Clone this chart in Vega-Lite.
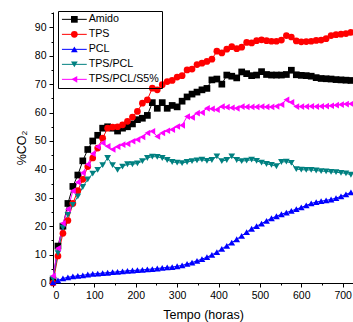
{
"$schema": "https://vega.github.io/schema/vega-lite/v6.json",
"width": 300, "height": 271,
"autosize": "none",
"padding": {"left": 53, "top": 12, "right": 0, "bottom": 39},
"background": "white",
"config": {
  "font": "Liberation Sans",
  "view": {"stroke": null},
  "axis": {"grid": false, "domainColor": "black", "tickColor": "black", "labelColor": "black", "titleColor": "black",
           "labelFont": "Liberation Sans", "titleFont": "Liberation Sans", "labelFontSize": 10.5, "titleFontSize": 12.5,
           "titleFontWeight": "normal", "tickSize": 4, "domainWidth": 1, "tickWidth": 1},
  "legend": {"title": null, "orient": "none", "legendX": 5, "legendY": -1,
             "padding": 3, "labelFontSize": 10.7, "labelFont": "Liberation Sans", "labelColor": "black", "symbolSize": 45,
             "symbolOffset": 8, "labelOffset": 9, "rowPadding": 3}
},
"datasets": {"d": [
{"t":0,"s":"Amido","v":1},{"t":12,"s":"Amido","v":13},{"t":24,"s":"Amido","v":20},{"t":36,"s":"Amido","v":28},{"t":48,"s":"Amido","v":34},{"t":60,"s":"Amido","v":38},{"t":72,"s":"Amido","v":43},{"t":84,"s":"Amido","v":47},{"t":96,"s":"Amido","v":50},{"t":108,"s":"Amido","v":52},{"t":120,"s":"Amido","v":54.5},{"t":132,"s":"Amido","v":55},{"t":144,"s":"Amido","v":54.5},{"t":156,"s":"Amido","v":53.5},{"t":168,"s":"Amido","v":54.5},{"t":180,"s":"Amido","v":55},{"t":192,"s":"Amido","v":56},{"t":204,"s":"Amido","v":57.5},{"t":216,"s":"Amido","v":58},{"t":228,"s":"Amido","v":59},{"t":240,"s":"Amido","v":63.5},{"t":252,"s":"Amido","v":61.5},{"t":264,"s":"Amido","v":63.5},{"t":276,"s":"Amido","v":61.5},{"t":288,"s":"Amido","v":62.5},{"t":300,"s":"Amido","v":62},{"t":312,"s":"Amido","v":64},{"t":324,"s":"Amido","v":65.5},{"t":336,"s":"Amido","v":66.5},{"t":348,"s":"Amido","v":67.2},{"t":360,"s":"Amido","v":68},{"t":372,"s":"Amido","v":68.5},{"t":384,"s":"Amido","v":71.5},{"t":396,"s":"Amido","v":71.8},{"t":408,"s":"Amido","v":70},{"t":420,"s":"Amido","v":73.2},{"t":432,"s":"Amido","v":72.8},{"t":444,"s":"Amido","v":72.2},{"t":456,"s":"Amido","v":74.3},{"t":468,"s":"Amido","v":73.7},{"t":480,"s":"Amido","v":73},{"t":492,"s":"Amido","v":73.2},{"t":504,"s":"Amido","v":74.4},{"t":516,"s":"Amido","v":73.4},{"t":528,"s":"Amido","v":73.2},{"t":540,"s":"Amido","v":73.2},{"t":552,"s":"Amido","v":73.2},{"t":564,"s":"Amido","v":73.4},{"t":576,"s":"Amido","v":74.9},{"t":588,"s":"Amido","v":73.3},{"t":600,"s":"Amido","v":73.1},{"t":612,"s":"Amido","v":73},{"t":624,"s":"Amido","v":72.8},{"t":636,"s":"Amido","v":72.3},{"t":648,"s":"Amido","v":72},{"t":660,"s":"Amido","v":71.9},{"t":672,"s":"Amido","v":71.8},{"t":684,"s":"Amido","v":71.6},{"t":696,"s":"Amido","v":71.5},{"t":708,"s":"Amido","v":71.4},{"t":720,"s":"Amido","v":71.3},
{"t":0,"s":"TPS","v":0},{"t":12,"s":"TPS","v":9.5},{"t":24,"s":"TPS","v":17.5},{"t":36,"s":"TPS","v":22},{"t":48,"s":"TPS","v":28},{"t":60,"s":"TPS","v":32.5},{"t":72,"s":"TPS","v":36.5},{"t":84,"s":"TPS","v":41},{"t":96,"s":"TPS","v":44},{"t":108,"s":"TPS","v":47.5},{"t":120,"s":"TPS","v":51},{"t":132,"s":"TPS","v":54.5},{"t":144,"s":"TPS","v":54.9},{"t":156,"s":"TPS","v":55},{"t":168,"s":"TPS","v":55.7},{"t":180,"s":"TPS","v":56.9},{"t":192,"s":"TPS","v":58.4},{"t":204,"s":"TPS","v":60.4},{"t":216,"s":"TPS","v":63.3},{"t":228,"s":"TPS","v":64.5},{"t":240,"s":"TPS","v":68.6},{"t":252,"s":"TPS","v":68},{"t":264,"s":"TPS","v":69.8},{"t":276,"s":"TPS","v":70.9},{"t":288,"s":"TPS","v":71.3},{"t":300,"s":"TPS","v":72.5},{"t":312,"s":"TPS","v":73},{"t":324,"s":"TPS","v":75},{"t":336,"s":"TPS","v":75.3},{"t":348,"s":"TPS","v":76.9},{"t":360,"s":"TPS","v":77.4},{"t":372,"s":"TPS","v":78},{"t":384,"s":"TPS","v":78.8},{"t":396,"s":"TPS","v":81.6},{"t":408,"s":"TPS","v":81},{"t":420,"s":"TPS","v":82.3},{"t":432,"s":"TPS","v":83.2},{"t":444,"s":"TPS","v":82.5},{"t":456,"s":"TPS","v":83},{"t":468,"s":"TPS","v":84.7},{"t":480,"s":"TPS","v":84.5},{"t":492,"s":"TPS","v":85.3},{"t":504,"s":"TPS","v":85.6},{"t":516,"s":"TPS","v":85.3},{"t":528,"s":"TPS","v":85.1},{"t":540,"s":"TPS","v":85.1},{"t":552,"s":"TPS","v":85.5},{"t":564,"s":"TPS","v":87.1},{"t":576,"s":"TPS","v":86.6},{"t":588,"s":"TPS","v":85.2},{"t":600,"s":"TPS","v":84.9},{"t":612,"s":"TPS","v":85},{"t":624,"s":"TPS","v":85.1},{"t":636,"s":"TPS","v":85.4},{"t":648,"s":"TPS","v":85.5},{"t":660,"s":"TPS","v":86},{"t":672,"s":"TPS","v":87.1},{"t":684,"s":"TPS","v":87.4},{"t":696,"s":"TPS","v":87.6},{"t":708,"s":"TPS","v":87.8},{"t":720,"s":"TPS","v":88.2},
{"t":0,"s":"PCL","v":0.2},{"t":12,"s":"PCL","v":0.9},{"t":24,"s":"PCL","v":1.6},{"t":36,"s":"PCL","v":2},{"t":48,"s":"PCL","v":2.3},{"t":60,"s":"PCL","v":2.5},{"t":72,"s":"PCL","v":2.7},{"t":84,"s":"PCL","v":3},{"t":96,"s":"PCL","v":3.2},{"t":108,"s":"PCL","v":3.3},{"t":120,"s":"PCL","v":3.5},{"t":132,"s":"PCL","v":3.6},{"t":144,"s":"PCL","v":3.8},{"t":156,"s":"PCL","v":3.9},{"t":168,"s":"PCL","v":4.1},{"t":180,"s":"PCL","v":4.3},{"t":192,"s":"PCL","v":4.4},{"t":204,"s":"PCL","v":4.5},{"t":216,"s":"PCL","v":4.6},{"t":228,"s":"PCL","v":4.8},{"t":240,"s":"PCL","v":4.9},{"t":252,"s":"PCL","v":5.1},{"t":264,"s":"PCL","v":5.3},{"t":276,"s":"PCL","v":5.5},{"t":288,"s":"PCL","v":5.6},{"t":300,"s":"PCL","v":5.9},{"t":312,"s":"PCL","v":6.2},{"t":324,"s":"PCL","v":6.7},{"t":336,"s":"PCL","v":7.2},{"t":348,"s":"PCL","v":7.8},{"t":360,"s":"PCL","v":8.4},{"t":372,"s":"PCL","v":9.1},{"t":384,"s":"PCL","v":9.9},{"t":396,"s":"PCL","v":10.9},{"t":408,"s":"PCL","v":12},{"t":420,"s":"PCL","v":13.1},{"t":432,"s":"PCL","v":14.2},{"t":444,"s":"PCL","v":15.4},{"t":456,"s":"PCL","v":16.6},{"t":468,"s":"PCL","v":17.9},{"t":480,"s":"PCL","v":19.1},{"t":492,"s":"PCL","v":20},{"t":504,"s":"PCL","v":20.9},{"t":516,"s":"PCL","v":21.9},{"t":528,"s":"PCL","v":22.8},{"t":540,"s":"PCL","v":23.5},{"t":552,"s":"PCL","v":24.2},{"t":564,"s":"PCL","v":24.8},{"t":576,"s":"PCL","v":25.4},{"t":588,"s":"PCL","v":26},{"t":600,"s":"PCL","v":26.6},{"t":612,"s":"PCL","v":27.3},{"t":624,"s":"PCL","v":28},{"t":636,"s":"PCL","v":28.5},{"t":648,"s":"PCL","v":28.8},{"t":660,"s":"PCL","v":29.1},{"t":672,"s":"PCL","v":29.4},{"t":684,"s":"PCL","v":29.9},{"t":696,"s":"PCL","v":30.5},{"t":708,"s":"PCL","v":31.2},{"t":720,"s":"PCL","v":31.9},
{"t":0,"s":"TPS/PCL","v":1.5},{"t":12,"s":"TPS/PCL","v":10.5},{"t":24,"s":"TPS/PCL","v":19.5},{"t":36,"s":"TPS/PCL","v":24},{"t":48,"s":"TPS/PCL","v":27.5},{"t":60,"s":"TPS/PCL","v":30.5},{"t":72,"s":"TPS/PCL","v":33.8},{"t":84,"s":"TPS/PCL","v":36.5},{"t":96,"s":"TPS/PCL","v":38.5},{"t":108,"s":"TPS/PCL","v":39.8},{"t":120,"s":"TPS/PCL","v":41.5},{"t":132,"s":"TPS/PCL","v":44},{"t":144,"s":"TPS/PCL","v":41.5},{"t":156,"s":"TPS/PCL","v":39.8},{"t":168,"s":"TPS/PCL","v":41},{"t":180,"s":"TPS/PCL","v":41.8},{"t":192,"s":"TPS/PCL","v":41.8},{"t":204,"s":"TPS/PCL","v":42.1},{"t":216,"s":"TPS/PCL","v":42.9},{"t":228,"s":"TPS/PCL","v":44},{"t":240,"s":"TPS/PCL","v":44.5},{"t":252,"s":"TPS/PCL","v":44.4},{"t":264,"s":"TPS/PCL","v":44},{"t":276,"s":"TPS/PCL","v":43.3},{"t":288,"s":"TPS/PCL","v":42.6},{"t":300,"s":"TPS/PCL","v":42.4},{"t":312,"s":"TPS/PCL","v":42.2},{"t":324,"s":"TPS/PCL","v":42.6},{"t":336,"s":"TPS/PCL","v":42.9},{"t":348,"s":"TPS/PCL","v":43.2},{"t":360,"s":"TPS/PCL","v":43.4},{"t":372,"s":"TPS/PCL","v":43},{"t":384,"s":"TPS/PCL","v":43.3},{"t":396,"s":"TPS/PCL","v":44.6},{"t":408,"s":"TPS/PCL","v":42.9},{"t":420,"s":"TPS/PCL","v":43.3},{"t":432,"s":"TPS/PCL","v":44.6},{"t":444,"s":"TPS/PCL","v":43.3},{"t":456,"s":"TPS/PCL","v":42.9},{"t":468,"s":"TPS/PCL","v":43.1},{"t":480,"s":"TPS/PCL","v":43.4},{"t":492,"s":"TPS/PCL","v":43},{"t":504,"s":"TPS/PCL","v":42.4},{"t":516,"s":"TPS/PCL","v":41.9},{"t":528,"s":"TPS/PCL","v":41.6},{"t":540,"s":"TPS/PCL","v":41.1},{"t":552,"s":"TPS/PCL","v":42.6},{"t":564,"s":"TPS/PCL","v":42.7},{"t":576,"s":"TPS/PCL","v":42.3},{"t":588,"s":"TPS/PCL","v":40.1},{"t":600,"s":"TPS/PCL","v":39.9},{"t":612,"s":"TPS/PCL","v":39.8},{"t":624,"s":"TPS/PCL","v":39.8},{"t":636,"s":"TPS/PCL","v":39.6},{"t":648,"s":"TPS/PCL","v":39.4},{"t":660,"s":"TPS/PCL","v":39.3},{"t":672,"s":"TPS/PCL","v":39.1},{"t":684,"s":"TPS/PCL","v":39},{"t":696,"s":"TPS/PCL","v":38.8},{"t":708,"s":"TPS/PCL","v":38.6},{"t":720,"s":"TPS/PCL","v":38.1},
{"t":0,"s":"TPS/PCL/S5%","v":2.5},{"t":12,"s":"TPS/PCL/S5%","v":12.2},{"t":24,"s":"TPS/PCL/S5%","v":21},{"t":36,"s":"TPS/PCL/S5%","v":26},{"t":48,"s":"TPS/PCL/S5%","v":32.4},{"t":60,"s":"TPS/PCL/S5%","v":35.5},{"t":72,"s":"TPS/PCL/S5%","v":38.8},{"t":84,"s":"TPS/PCL/S5%","v":41.8},{"t":96,"s":"TPS/PCL/S5%","v":45.5},{"t":108,"s":"TPS/PCL/S5%","v":48},{"t":120,"s":"TPS/PCL/S5%","v":49.3},{"t":132,"s":"TPS/PCL/S5%","v":48.1},{"t":144,"s":"TPS/PCL/S5%","v":47},{"t":156,"s":"TPS/PCL/S5%","v":48},{"t":168,"s":"TPS/PCL/S5%","v":48.7},{"t":180,"s":"TPS/PCL/S5%","v":49},{"t":192,"s":"TPS/PCL/S5%","v":49.9},{"t":204,"s":"TPS/PCL/S5%","v":50.5},{"t":216,"s":"TPS/PCL/S5%","v":51.4},{"t":228,"s":"TPS/PCL/S5%","v":52.8},{"t":240,"s":"TPS/PCL/S5%","v":53.4},{"t":252,"s":"TPS/PCL/S5%","v":51.6},{"t":264,"s":"TPS/PCL/S5%","v":52.8},{"t":276,"s":"TPS/PCL/S5%","v":53.6},{"t":288,"s":"TPS/PCL/S5%","v":54},{"t":300,"s":"TPS/PCL/S5%","v":55.1},{"t":312,"s":"TPS/PCL/S5%","v":55.5},{"t":324,"s":"TPS/PCL/S5%","v":58.6},{"t":336,"s":"TPS/PCL/S5%","v":58.3},{"t":348,"s":"TPS/PCL/S5%","v":59.8},{"t":360,"s":"TPS/PCL/S5%","v":60},{"t":372,"s":"TPS/PCL/S5%","v":61.5},{"t":384,"s":"TPS/PCL/S5%","v":61.3},{"t":396,"s":"TPS/PCL/S5%","v":61},{"t":408,"s":"TPS/PCL/S5%","v":62.1},{"t":420,"s":"TPS/PCL/S5%","v":61.9},{"t":432,"s":"TPS/PCL/S5%","v":61.7},{"t":444,"s":"TPS/PCL/S5%","v":61.5},{"t":456,"s":"TPS/PCL/S5%","v":62.1},{"t":468,"s":"TPS/PCL/S5%","v":62},{"t":480,"s":"TPS/PCL/S5%","v":62},{"t":492,"s":"TPS/PCL/S5%","v":62},{"t":504,"s":"TPS/PCL/S5%","v":62.1},{"t":516,"s":"TPS/PCL/S5%","v":62},{"t":528,"s":"TPS/PCL/S5%","v":62},{"t":540,"s":"TPS/PCL/S5%","v":62.2},{"t":552,"s":"TPS/PCL/S5%","v":62.8},{"t":564,"s":"TPS/PCL/S5%","v":64.5},{"t":576,"s":"TPS/PCL/S5%","v":63.6},{"t":588,"s":"TPS/PCL/S5%","v":62.1},{"t":600,"s":"TPS/PCL/S5%","v":62.1},{"t":612,"s":"TPS/PCL/S5%","v":62.1},{"t":624,"s":"TPS/PCL/S5%","v":62.2},{"t":636,"s":"TPS/PCL/S5%","v":62.1},{"t":648,"s":"TPS/PCL/S5%","v":62.2},{"t":660,"s":"TPS/PCL/S5%","v":62.3},{"t":672,"s":"TPS/PCL/S5%","v":62.4},{"t":684,"s":"TPS/PCL/S5%","v":62.6},{"t":696,"s":"TPS/PCL/S5%","v":62.8},{"t":708,"s":"TPS/PCL/S5%","v":63},{"t":720,"s":"TPS/PCL/S5%","v":63.1}
]},
"data": {"name": "d"},
"layer": [
  {
    "mark": {"type": "line", "strokeWidth": 1},
    "encoding": {
      "x": {"field": "t", "type": "quantitative", "scale": {"domain": [0, 725], "nice": false, "zero": false},
            "axis": {"orient": "bottom", "values": [50,150,250,350,450,550,650], "labels": false, "domain": false, "tickSize": 2, "title": null}},
      "y": {"field": "v", "type": "quantitative", "scale": {"domain": [0, 95.4], "nice": false, "zero": false},
            "axis": {"orient": "left", "values": [5,15,25,35,45,55,65,75,85,95], "labels": false, "domain": false, "tickSize": 2, "title": null}},
      "stroke": {"field": "s", "type": "nominal", "sort": ["Amido","TPS","PCL","TPS/PCL","TPS/PCL/S5%"],
                "scale": {"range": ["#000000","#ff0000","#0000ff","#008080","#ff00ff"]},
                "legend": {"symbolType": "M-3.7,0H3.7", "symbolStrokeWidth": 1, "labelOpacity": 0}}
    }
  },
  {
    "mark": {"type": "point", "filled": true, "size": 45, "opacity": 1},
    "encoding": {
      "x": {"field": "t", "type": "quantitative",
            "axis": {"orient": "bottom", "values": [0,100,200,300,400,500,600,700], "title": "Tempo (horas)", "labelPadding": 3, "titlePadding": 8}},
      "y": {"field": "v", "type": "quantitative",
            "axis": {"orient": "left", "values": [0,10,20,30,40,50,60,70,80,90], "title": "%CO₂", "labelPadding": 3, "titlePadding": 6}},
      "color": {"field": "s", "type": "nominal",
                "scale": {"domain": ["Amido","TPS","PCL","TPS/PCL","TPS/PCL/S5%"], "range": ["#000000","#ff0000","#0000ff","#008080","#ff00ff"]},
                "legend": {"strokeColor": "black"}},
      "shape": {"field": "s", "type": "nominal",
                "scale": {"domain": ["Amido","TPS","PCL","TPS/PCL","TPS/PCL/S5%"], "range": ["square","circle","triangle-up","triangle-down","triangle-left"]},
                "legend": {"strokeColor": "black"}}
    }
  }
],
"resolve": {"axis": {"x": "independent", "y": "independent"}}
}
